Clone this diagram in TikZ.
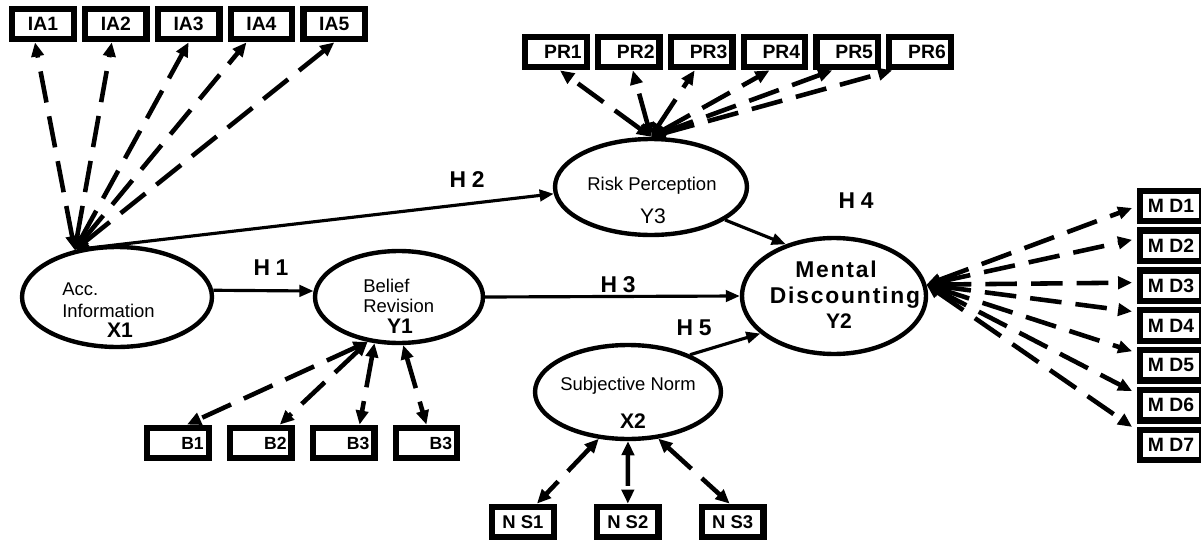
\documentclass[tikz,border=0pt]{standalone}
\usepackage{fontspec}
\setmainfont{Liberation Sans}
\usetikzlibrary{shapes.geometric, arrows.meta, positioning, calc}

\begin{document}
\begin{tikzpicture}[
    x=0.02cm, y=-0.02cm,
    item/.style={rectangle, draw, line width=3.6pt, minimum width=1.23cm, minimum height=0.61cm, inner sep=1pt, font=\bfseries\fontsize{11}{11}\selectfont},
    itemr/.style={item, text width=1.03cm, align=right},
    latent/.style={ellipse, draw, line width=2.5pt, inner sep=0pt},
    txt/.style={inner sep=0pt, font=\fontsize{10.5}{12}\selectfont},
    code/.style={inner sep=0pt, font=\bfseries\fontsize{12}{12}\selectfont},
    big/.style={inner sep=0pt, font=\bfseries\fontsize{13}{13}\selectfont\addfontfeature{LetterSpace=8}},
    hyp/.style={inner sep=0pt, font=\bfseries\fontsize{13}{13}\selectfont\addfontfeature{LetterSpace=25}},
    effect/.style={-{Triangle[length=8pt, width=6.5pt]}, line width=1.8pt},
    loading/.style={{Triangle[length=8pt, width=7pt]}-{Triangle[length=8pt, width=7pt]}, line width=2.6pt, dash pattern=on 18pt off 8pt}
]
\useasboundingbox (0,0) rectangle (1201,541);

% latent variables
\node[latent, minimum width=3.8cm, minimum height=2cm] (X1) at (117,297) {};
\node[latent, minimum width=3.36cm, minimum height=1.84cm] (Y1) at (399,297) {};
\node[latent, minimum width=3.84cm, minimum height=1.92cm] (Y3) at (651,187) {};
\node[latent, minimum width=3.68cm, minimum height=2.32cm] (Y2) at (834,296) {};
\node[latent, minimum width=3.72cm, minimum height=1.88cm] (X2) at (628,392) {};

\node[txt, anchor=base west] (x1a) at (62,295) {Acc.};
\node[txt, anchor=base west] (x1b) at (62,317) {Information};
\node[code, anchor=base] (x1c) at (120,337) {X1};
\node[txt, anchor=base west] (y1a) at (363,292) {Belief};
\node[txt, anchor=base west] (y1b) at (363,312) {Revision};
\node[code, anchor=base] (y1c) at (400,333) {Y1};
\node[txt, anchor=base west] (y3a) at (587,190) {Risk Perception};
\node[txt, anchor=base, font=\fontsize{12}{12}\selectfont] (y3c) at (653,223) {Y3};
\node[big, anchor=base] (y2a) at (836,277) {Mental};
\node[big, anchor=base] (y2b) at (845,303) {Discounting};
\node[code, anchor=base] (y2c) at (839,328) {Y2};
\node[txt, anchor=base west] (x2a) at (560,390) {Subjective Norm};
\node[code, anchor=base] (x2c) at (633,428) {X2};

% hypotheses
\node[hyp, anchor=base] (h1) at (271,275) {H1};
\node[hyp, anchor=base] (h2) at (467,187) {H2};
\node[hyp, anchor=base] (h3) at (618,292) {H3};
\node[hyp, anchor=base] (h4) at (856,208) {H4};
\node[hyp, anchor=base] (h5) at (694,335) {H5};

% indicators
\node[item] (IA1) at (43,24) {IA1};
\node[item, right=0.1cm of IA1] (IA2) {IA2};
\node[item, right=0.1cm of IA2] (IA3) {IA3};
\node[item, right=0.1cm of IA3] (IA4) {IA4};
\node[item, right=0.1cm of IA4] (IA5) {IA5};

\node[itemr] (PR1) at (556,52) {PR1};
\node[itemr, right=0.1cm of PR1] (PR2) {PR2};
\node[itemr, right=0.1cm of PR2] (PR3) {PR3};
\node[itemr, right=0.1cm of PR3] (PR4) {PR4};
\node[itemr, right=0.1cm of PR4] (PR5) {PR5};
\node[itemr, right=0.1cm of PR5] (PR6) {PR6};

\node[item] (MD1) at (1171,206) {M D1};
\node[item, below=0.06cm of MD1] (MD2) {M D2};
\node[item, below=0.06cm of MD2] (MD3) {M D3};
\node[item, below=0.06cm of MD3] (MD4) {M D4};
\node[item, below=0.06cm of MD4] (MD5) {M D5};
\node[item, below=0.06cm of MD5] (MD6) {M D6};
\node[item, below=0.06cm of MD6] (MD7) {M D7};

\node[itemr, font=\bfseries\fontsize{10}{10}\selectfont] (B1) at (178,443) {B1};
\node[itemr, font=\bfseries\fontsize{10}{10}\selectfont, right=0.3cm of B1] (B2) {B2};
\node[itemr, font=\bfseries\fontsize{10}{10}\selectfont, right=0.3cm of B2] (B3) {B3};
\node[itemr, font=\bfseries\fontsize{10}{10}\selectfont, right=0.3cm of B3] (B4) {B3};

\node[item, font=\bfseries\fontsize{10.5}{10.5}\selectfont] (NS1) at (523,522) {N S1};
\node[item, font=\bfseries\fontsize{10.5}{10.5}\selectfont, right=0.74cm of NS1] (NS2) {N S2};
\node[item, font=\bfseries\fontsize{10.5}{10.5}\selectfont, right=0.74cm of NS2] (NS3) {N S3};

% structural paths
\draw[effect] (X1.4) -- (Y1.176);
\draw[effect] (X1.130) -- (Y3.184);
\draw[effect] (Y1.east) -- (Y2.west);
\draw[effect] (Y3.336) -- (Y2.133);
\draw[effect] (X2.31) -- (Y2.207);

% loadings
\draw[loading] (X1.132) -- ([xshift=-0.16cm]IA1.south);
\draw[loading] (X1.132) -- ([xshift=-0.08cm]IA2.south);
\draw[loading] (X1.132) -- (IA3.south);
\draw[loading] (X1.132) -- ([xshift=-0.3cm]IA4.south);
\draw[loading] (X1.132) -- (IA5.south);

\draw[loading] (Y3.north) -- ([xshift=0.08cm]PR1.south);
\draw[loading] (Y3.north) -- ([xshift=0.08cm]PR2.south);
\draw[loading] (Y3.north) -- ([xshift=-0.14cm]PR3.south);
\draw[loading] (Y3.north) -- ([xshift=-0.1cm]PR4.south);
\draw[loading] (Y3.north) -- ([xshift=-0.3cm]PR5.south);
\draw[loading] (Y3.north) -- ([xshift=-0.56cm]PR6.south);

\draw[loading] (Y2.7) -- ([xshift=-0.1cm, yshift=-0.04cm]MD1.west);
\draw[loading] (Y2.7) -- ([xshift=-0.1cm, yshift=0.12cm]MD2.west);
\draw[loading] (Y2.7) -- ([xshift=-0.1cm, yshift=0.06cm]MD3.west);
\draw[loading] (Y2.7) -- ([xshift=-0.1cm, yshift=0.28cm]MD4.west);
\draw[loading] (Y2.7) -- ([xshift=-0.1cm, yshift=0.28cm]MD5.west);
\draw[loading] (Y2.7) -- ([xshift=-0.1cm, yshift=0.28cm]MD6.west);
\draw[loading] (Y2.7) -- ([xshift=-0.1cm, yshift=0.36cm]MD7.west);

\draw[loading] (Y1.235) -- ([xshift=0.18cm]B1.north);
\draw[loading] (Y1.235) -- ([xshift=0.38cm]B2.north);
\draw[loading] (Y1.242) -- ([xshift=0.32cm]B3.north);
\draw[loading] (Y1.275) -- (B4.north);

\draw[loading] (X2.238) -- ([xshift=0.28cm]NS1.north);
\draw[loading] (X2.270) -- (NS2.north);
\draw[loading] (X2.303) -- ([xshift=-0.06cm]NS3.north);

\end{tikzpicture}
\end{document}
